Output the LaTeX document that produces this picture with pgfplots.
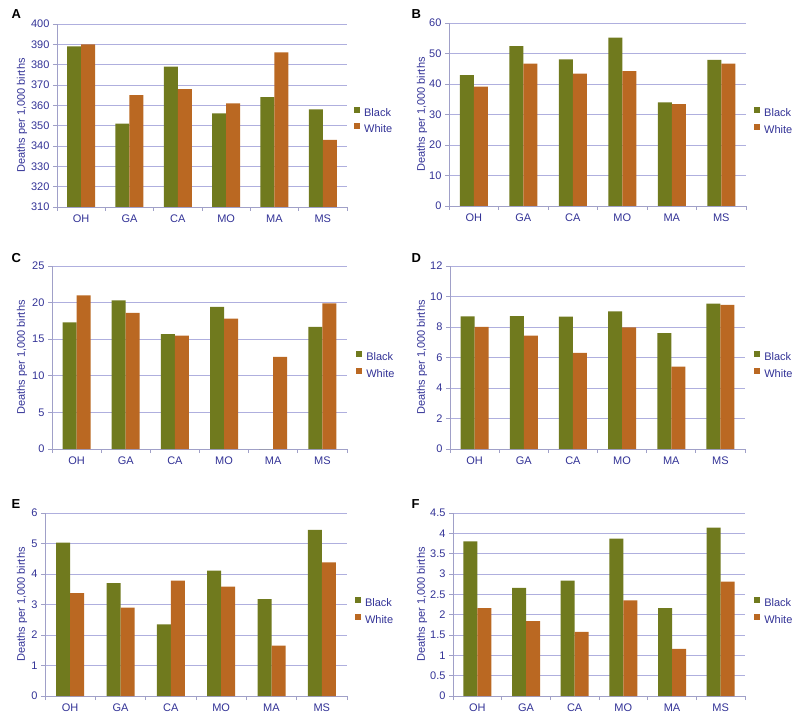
\documentclass[border=0pt]{standalone}
\usepackage{pgfplots}
\pgfplotsset{compat=1.18}
\usepackage{fontspec}
\setmainfont{Liberation Sans}

\definecolor{cblack}{RGB}{112,122,30}
\definecolor{cwhite}{RGB}{186,104,34}
\definecolor{navy}{RGB}{50,50,150}
\definecolor{gridc}{RGB}{175,175,222}
\definecolor{axgray}{RGB}{160,160,200}

\newcommand{\txt}{\fontsize{11}{13}\selectfont}

\pgfplotsset{
  panel/.style={
    scale only axis, height=183pt,
    ybar=0pt, bar width=14pt,
    xmin=-0.5, xmax=5.5,
    xtick={-0.5,0.5,1.5,2.5,3.5,4.5,5.5},
    x tick label as interval,
    xticklabels={OH,GA,CA,MO,MA,MS},
    axis x line*=bottom, axis y line*=left,
    axis line style={draw=axgray, line width=0.7pt, -},
    tick align=outside, major tick length=4pt,
    tick style={draw=axgray, line width=0.7pt},
    ymajorgrids, grid style={draw=gridc, line width=0.8pt},
    tick label style={font=\txt, text=navy},
    /pgf/number format/assume math mode=true,
    ylabel={Deaths per 1,000 births},
    ylabel style={font=\txt, text=navy, anchor=center},
    legend style={anchor=west, draw=none, fill=none, inner sep=0pt,
      font=\txt, text=navy, row sep=5pt,
      nodes={inner sep=0pt, text height=8pt, text depth=2pt},
      /tikz/every odd column/.append style={column sep=4pt}},
    legend cell align=left,
  },
  bk/.style={fill=cblack, draw=none,
    legend image code/.code={\fill[##1] (0pt,0.5pt) rectangle (6pt,6.5pt);}},
  wh/.style={fill=cwhite, draw=none,
    legend image code/.code={\fill[##1] (0pt,0.5pt) rectangle (6pt,6.5pt);}},
}
\tikzset{lbl/.style={anchor=west, font=\bfseries\fontsize{13}{15}\selectfont}}

\begin{document}
\begin{tikzpicture}
  \path[use as bounding box] (0pt,0pt) rectangle (800pt,721pt);

  % A
  \begin{axis}[panel, at={(57pt,514pt)}, anchor=south west, width=290pt,
      ymin=310, ymax=400, ytick={310,320,...,400},
      ylabel style={at={(axis description cs:-0.121,0.5)}},
      legend style={at={(1.024,0.47)}}]
    \addplot[bk] coordinates {(0,389) (1,351) (2,379) (3,356) (4,364) (5,358)};
    \addplot[wh] coordinates {(0,390) (1,365) (2,368) (3,361) (4,386) (5,343)};
    \legend{Black,White}
  \end{axis}

  % B
  \begin{axis}[panel, at={(449pt,515pt)}, anchor=south west, width=297pt,
      ymin=0, ymax=60, ytick={0,10,...,60},
      ylabel style={at={(axis description cs:-0.091,0.5)}},
      legend style={at={(1.027,0.464)}}]
    \addplot[bk] coordinates {(0,42.9) (1,52.4) (2,48.1) (3,55.2) (4,34.0) (5,47.9)};
    \addplot[wh] coordinates {(0,39.1) (1,46.7) (2,43.4) (3,44.2) (4,33.4) (5,46.7)};
    \legend{Black,White}
  \end{axis}

  % C
  \begin{axis}[panel, at={(52pt,272pt)}, anchor=south west, width=295pt,
      ymin=0, ymax=25, ytick={0,5,...,25},
      ylabel style={at={(axis description cs:-0.102,0.5)}},
      legend style={at={(1.031,0.459)}}]
    \addplot[bk] coordinates {(0,17.3) (1,20.3) (2,15.7) (3,19.4) (4,0) (5,16.7)};
    \addplot[wh] coordinates {(0,21.0) (1,18.6) (2,15.5) (3,17.8) (4,12.6) (5,19.9)};
    \legend{Black,White}
  \end{axis}

  % D
  \begin{axis}[panel, at={(450pt,272pt)}, anchor=south west, width=295pt,
      ymin=0, ymax=12, ytick={0,2,...,12},
      ylabel style={at={(axis description cs:-0.095,0.5)}},
      legend style={at={(1.031,0.459)}}]
    \addplot[bk] coordinates {(0,8.7) (1,8.72) (2,8.68) (3,9.03) (4,7.6) (5,9.53)};
    \addplot[wh] coordinates {(0,8.0) (1,7.43) (2,6.3) (3,7.97) (4,5.4) (5,9.45)};
    \legend{Black,White}
  \end{axis}

  % E
  \begin{axis}[panel, at={(45pt,25pt)}, anchor=south west, width=302pt,
      ymin=0, ymax=6, ytick={0,1,...,6},
      ylabel style={at={(axis description cs:-0.076,0.5)}},
      legend style={at={(1.026,0.464)}}]
    \addplot[bk] coordinates {(0,5.03) (1,3.7) (2,2.35) (3,4.11) (4,3.18) (5,5.45)};
    \addplot[wh] coordinates {(0,3.37) (1,2.9) (2,3.78) (3,3.59) (4,1.65) (5,4.38)};
    \legend{Black,White}
  \end{axis}

  % F
  \begin{axis}[panel, at={(453pt,25pt)}, anchor=south west, width=292pt,
      ymin=0, ymax=4.5, ytick={0,0.5,1,1.5,2,2.5,3,3.5,4,4.5},
      ylabel style={at={(axis description cs:-0.106,0.5)}},
      legend style={at={(1.031,0.464)}}]
    \addplot[bk] coordinates {(0,3.8) (1,2.66) (2,2.84) (3,3.87) (4,2.16) (5,4.14)};
    \addplot[wh] coordinates {(0,2.16) (1,1.84) (2,1.58) (3,2.35) (4,1.16) (5,2.81)};
    \legend{Black,White}
  \end{axis}

  \node[lbl] at (8pt,707pt) {A};
  \node[lbl] at (408pt,707pt) {B};
  \node[lbl] at (8pt,463pt) {C};
  \node[lbl] at (408pt,463pt) {D};
  \node[lbl] at (8pt,217pt) {E};
  \node[lbl] at (408pt,217pt) {F};
\end{tikzpicture}
\end{document}
